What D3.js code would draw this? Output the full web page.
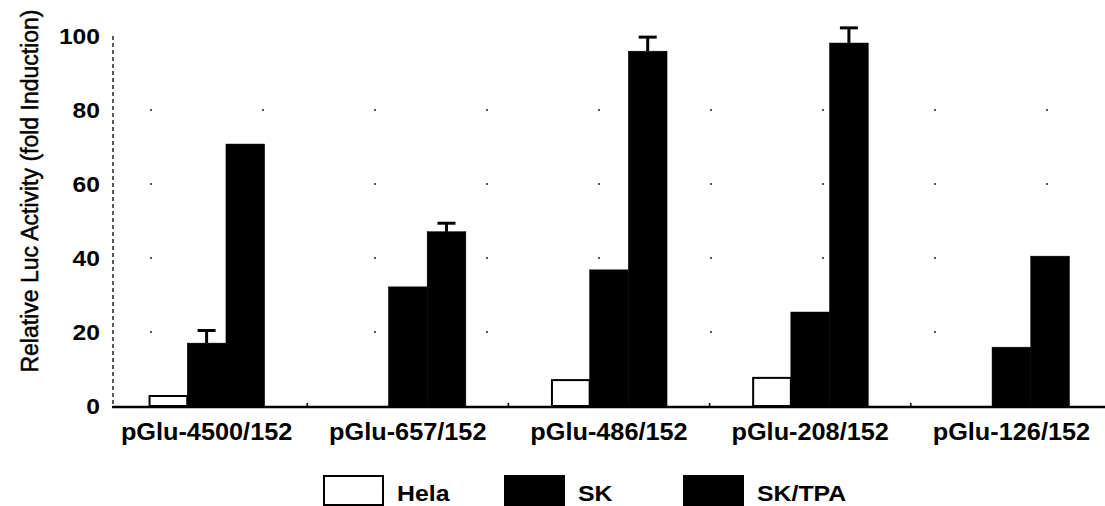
<!DOCTYPE html>
<html>
<head>
<meta charset="utf-8">
<script src="https://cdn.jsdelivr.net/npm/d3@7"></script>
<style>
    body { margin: 0; background: #fff; }
    svg { display: block; }
</style>
</head>
<body>
<div id="chart"></div>
<script>
const constructs = ['pGlu-4500/152', 'pGlu-657/152', 'pGlu-486/152', 'pGlu-208/152', 'pGlu-126/152'];
const series = ['Hela', 'SK', 'SK/TPA'];
const hela = [2.7, 0, 7.0, 7.6, 0];
const sk = [17, 32.2, 36.8, 25.4, 15.9];
const skTpa = [70.8, 47.1, 95.9, 98.1, 40.5];
const skErr = [3.4, 0, 0, 0, 0];
const skTpaErr = [0, 2.3, 3.8, 4.1, 0];
const yTicks = [0, 20, 40, 60, 80, 100];

const w = 1105, h = 506;
const font = '"Liberation Sans", Arial, sans-serif';

var svg = d3.select('#chart')
    .append('svg')
    .attr('width', w)
    .attr('height', h)
    .style('font-family', font);

var x0 = d3.scaleBand()
    .domain(constructs)
    .range([106, 1112])
    .paddingInner(0.423)
    .paddingOuter(0.2115);

var x1 = d3.scaleBand()
    .domain(series)
    .range([0, x0.bandwidth()]);

var y = d3.scaleLinear()
    .domain([0, 100])
    .range([406, 36]);

const fills = { 'Hela': '#fff', 'SK': '#000', 'SK/TPA': '#000' };

// faint scan-like dotted gridlines
svg.append('g')
    .selectAll('line')
    .data(yTicks.slice(1, 5))
    .join('line')
    .attr('x1', 150)
    .attr('x2', 1090)
    .attr('y1', d => y(d))
    .attr('y2', d => y(d))
    .style('stroke', '#555')
    .style('stroke-width', 2)
    .style('stroke-dasharray', '2,110');

var rows = constructs.map((c, i) => ({
    c: c,
    bars: [
        { s: 'Hela', v: hela[i], e: 0 },
        { s: 'SK', v: sk[i], e: skErr[i] },
        { s: 'SK/TPA', v: skTpa[i], e: skTpaErr[i] }
    ]
}));

var groups = svg.append('g')
    .selectAll('g')
    .data(rows)
    .join('g')
    .attr('transform', d => `translate(${x0(d.c)},0)`);

// error bars (drawn first so the bar covers the stem)
groups.selectAll('g.err')
    .data(d => d.bars.filter(b => b.e > 0))
    .join('g')
    .attr('class', 'err')
    .each(function (b) {
        var g = d3.select(this);
        var cx = x1(b.s) + x1.bandwidth() / 2;
        g.append('line')
            .attr('x1', cx).attr('x2', cx)
            .attr('y1', y(b.v)).attr('y2', y(b.v + b.e))
            .style('stroke', '#000').style('stroke-width', 3);
        g.append('line')
            .attr('x1', cx - 9).attr('x2', cx + 9)
            .attr('y1', y(b.v + b.e)).attr('y2', y(b.v + b.e))
            .style('stroke', '#000').style('stroke-width', 3);
    });

groups.selectAll('rect')
    .data(d => d.bars.filter(b => b.v > 0))
    .join('rect')
    .attr('x', b => x1(b.s) + (b.s === 'Hela' ? 1 : 0))
    .attr('y', b => y(b.v))
    .attr('width', b => x1.bandwidth() - (b.s === 'Hela' ? 1 : 0))
    .attr('height', b => y(0) - y(b.v))
    .style('fill', b => fills[b.s])
    .style('stroke', '#000')
    .style('stroke-width', b => b.s === 'Hela' ? 2 : 0.5);

// y axis: dashed vertical line
svg.append('line')
    .attr('x1', 113).attr('x2', 113)
    .attr('y1', y(100)).attr('y2', y(0))
    .style('stroke', '#222')
    .style('stroke-width', 1.5)
    .style('stroke-dasharray', '4,3');

// baseline
svg.append('line')
    .attr('x1', 112).attr('x2', 1105)
    .attr('y1', y(0) + 1).attr('y2', y(0) + 1)
    .style('stroke', '#000')
    .style('stroke-width', 2.5);

// small ticks between groups
svg.append('g')
    .selectAll('line')
    .data(constructs.slice(1))
    .join('line')
    .attr('x1', d => x0(d) - x0.step() * x0.paddingInner() / 2)
    .attr('x2', d => x0(d) - x0.step() * x0.paddingInner() / 2)
    .attr('y1', y(0) - 3)
    .attr('y2', y(0) + 1)
    .style('stroke', '#000')
    .style('stroke-width', 1.5);

svg.append('g')
    .selectAll('text')
    .data(yTicks)
    .join('text')
    .attr('text-anchor', 'end')
    .attr('transform', d => `translate(100,${y(d) + 8}) scale(1.12,1)`)
    .style('font-size', '22px')
    .style('font-weight', 'bold')
    .style('fill', '#000')
    .text(d => d);

svg.append('text')
    .attr('text-anchor', 'middle')
    .attr('transform', `translate(38,${y(50) - 30}) rotate(-90)`)
    .style('font-size', '23px')
    .style('fill', '#000')
    .style('stroke', '#000')
    .style('stroke-width', 0.5)
    .text('Relative Luc Activity (fold Induction)');

svg.append('g')
    .selectAll('text')
    .data(constructs)
    .join('text')
    .attr('text-anchor', 'middle')
    .attr('transform', d => `translate(${x0(d) + x0.bandwidth() / 2},440) scale(1.1,1)`)
    .style('font-size', '23px')
    .style('font-weight', 'bold')
    .style('fill', '#000')
    .text(d => d);

// legend
const legendX = [323, 504, 683];
var legend = svg.append('g')
    .selectAll('g')
    .data(series)
    .join('g')
    .attr('transform', (d, i) => `translate(${legendX[i]},475)`);

legend.append('rect')
    .attr('x', 1)
    .attr('y', 1)
    .attr('width', 59)
    .attr('height', 29)
    .style('fill', d => fills[d])
    .style('stroke', '#000')
    .style('stroke-width', 2);

legend.append('text')
    .attr('transform', 'translate(74,26) scale(1.13,1)')
    .style('font-size', '22px')
    .style('font-weight', 'bold')
    .style('fill', '#000')
    .text(d => d);
</script>
</body>
</html>
